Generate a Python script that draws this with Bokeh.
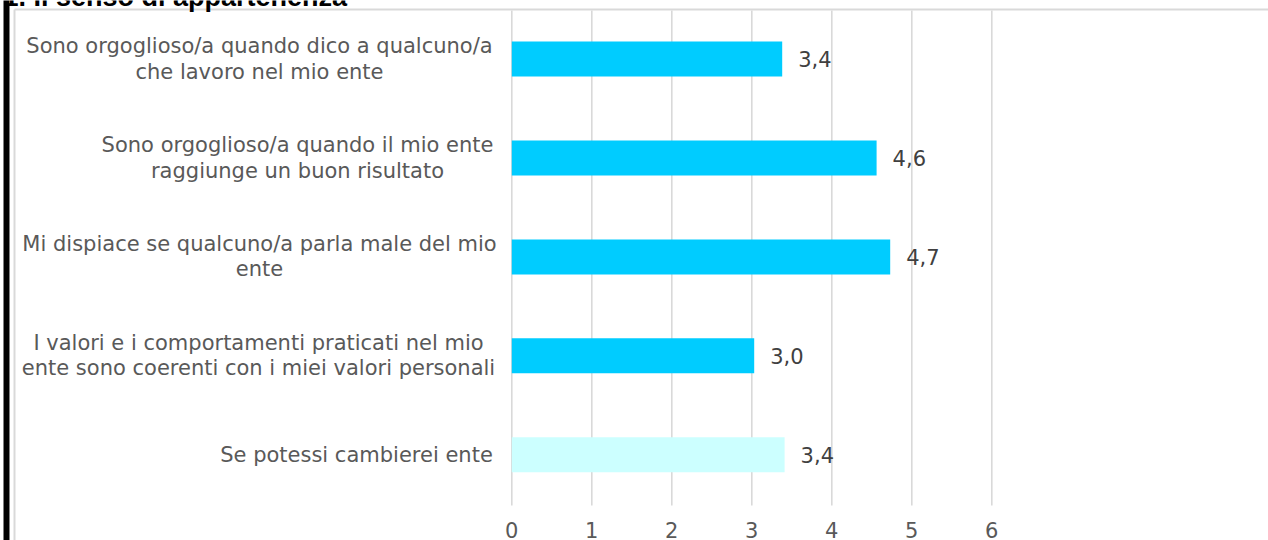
from bokeh.plotting import figure
from bokeh.models import Range1d, FixedTicker, ColumnDataSource, LinearAxis
from bokeh.core.properties import value
from bokeh.embed import file_html
from bokeh.resources import INLINE

# ---- data ----
categories = [
    "Sono orgoglioso/a quando dico a qualcuno/a\nche lavoro nel mio ente",
    "Sono orgoglioso/a quando il mio ente\nraggiunge un buon risultato",
    "Mi dispiace se qualcuno/a parla male del mio\nente",
    "I valori e i comportamenti praticati nel mio\nente sono coerenti con i miei valori personali",
    "Se potessi cambierei ente",
]
values = [3.38, 4.56, 4.73, 3.03, 3.41]
bar_colors = ["#00CCFF", "#00CCFF", "#00CCFF", "#00CCFF", "#CCFFFF"]
value_labels = [f"{v:.1f}".replace(".", ",") for v in values]
ticks = [0, 1, 2, 3, 4, 5, 6]
title = "1.  Il senso di appartenenza"

# ---- layout constants (pixels) ----
W, H = 1268, 540
X0_PX, PX_PER_X = 511.3, 80.0
Y0_PX, PX_PER_ROW = 58.5, 98.95
label_center_px = [259, 297, 259, 258, 356]
FONT = "DejaVu Sans"
FS = "21px"


def dx(px):
    return (px - X0_PX) / PX_PER_X


def dy(py):
    return (py - Y0_PX) / PX_PER_ROW


p = figure(width=W, height=H, output_backend="svg", toolbar_location=None,
           x_range=Range1d(dx(0), dx(W)), y_range=Range1d(dy(H), dy(0)),
           x_axis_location=None, y_axis_location=None,
           min_border=0, min_border_left=0, min_border_right=0,
           min_border_top=0, min_border_bottom=0,
           outline_line_color=None, background_fill_color="white",
           border_fill_color="white")
p.xgrid.visible = False
p.ygrid.visible = False

idx = list(range(len(categories)))

# chart-area border
p.segment(x0=[dx(14), dx(14)], y0=[dy(9), dy(9)], x1=[dx(W + 5), dx(14)],
          y1=[dy(9), dy(H + 5)], line_color="#d9d9d9", line_width=2)

# vertical gridlines
p.segment(x0=ticks, y0=[dy(10)] * len(ticks), x1=ticks, y1=[dy(505)] * len(ticks),
          line_color="#d9d9d9", line_width=1.6)

# bars
src = ColumnDataSource(dict(y=idx, v=values, c=bar_colors, lab=value_labels,
                            cat=categories,
                            cx=[dx(c) for c in label_center_px]))
p.hbar(y="y", left=0, right="v", height=35 / PX_PER_ROW, fill_color="c",
       line_color=None, source=src)

# value labels
p.text(x="v", y="y", text="lab", x_offset=16, text_align="left",
       text_baseline="middle", text_font=value(FONT), text_font_size=FS,
       text_color="#404040", source=src)

# category labels
p.text(x="cx", y="y", text="cat", text_align="center", text_baseline="middle",
       text_font=value(FONT), text_font_size=FS, text_color="#595959",
       text_line_height=1.05, source=src)

# title (cut off at top as in the source)
p.text(x=[dx(3)], y=[dy(-4)], text=[title], text_align="left",
       text_baseline="alphabetic", text_font=value("Liberation Sans"),
       text_font_style="bold", text_font_size="27px", text_color="black")

# black bar on the left
p.quad(left=[dx(3)], right=[dx(9)], top=[dy(-5)], bottom=[dy(H + 5)],
       fill_color="black", line_color=None)

# x axis inside the frame
ax = LinearAxis(ticker=FixedTicker(ticks=ticks), fixed_location=dy(505))
ax.axis_line_color = None
ax.major_tick_line_color = None
ax.minor_tick_line_color = None
ax.major_tick_out = 0
ax.major_tick_in = 0
ax.major_label_standoff = 16
ax.major_label_text_font = FONT
ax.major_label_text_font_size = FS
ax.major_label_text_color = "#595959"
p.add_layout(ax, "below")

open("out.html", "w").write(file_html(p, INLINE))
